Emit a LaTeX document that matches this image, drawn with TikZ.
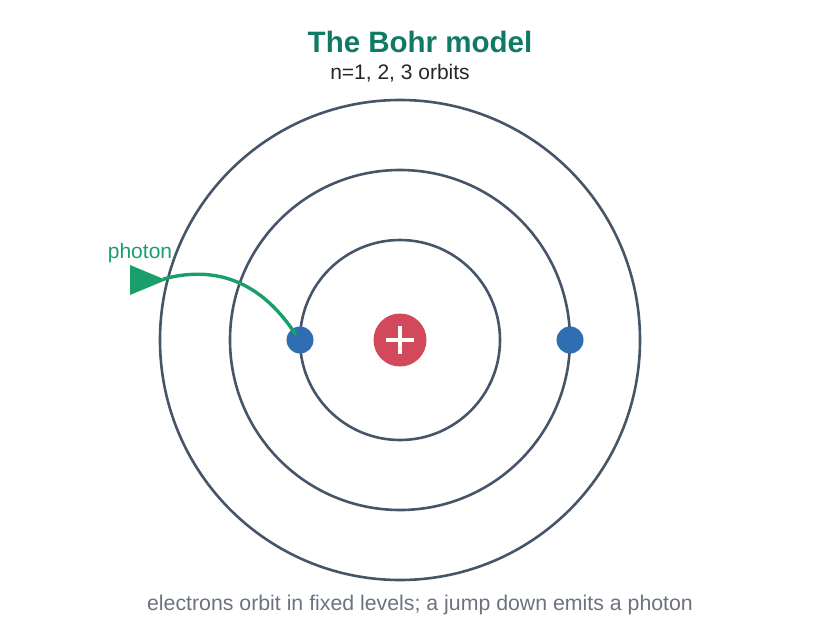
\documentclass[tikz,border=0pt]{standalone}
\usepackage{fontspec}
\setmainfont{Liberation Sans}
\definecolor{orbit}{HTML}{475569}
\definecolor{nuc}{HTML}{D1495B}
\definecolor{elec}{HTML}{2F6EB0}
\definecolor{pho}{HTML}{1A9E6A}
\definecolor{ttl}{HTML}{117A65}
\definecolor{captxt}{HTML}{6B7280}
\begin{document}
\begin{tikzpicture}[x=1pt,y=-1pt,
  orb/.style={draw=orbit,line width=2.6pt},
  el/.style={circle,fill=elec,minimum size=27pt,inner sep=0pt}]
\useasboundingbox (0,0) rectangle (840,640);
\coordinate (c) at (400,340);
\draw[orb] (c) circle (100);
\draw[orb] (c) circle (170);
\draw[orb] (c) circle (240);
\node[circle,fill=nuc,minimum size=53pt,inner sep=0pt] (n) at (c) {};
\draw[white,line width=4.5pt] (386,340) -- (414,340) (400,326) -- (400,354);
\node[el] (e1) at (300,340) {};
\node[el] (e2) at (570,340) {};
\coordinate (tip) at (163,279);
\draw[pho,line width=3.4pt] (296,335) .. controls (255,272) and (205,268) .. (tip);
\fill[pho] (130,265) -- (166,280) -- (130,295) -- cycle;
\node[pho,font=\fontsize{21}{25}\selectfont] (ph) at (140,253) {photon};
\node[ttl,font=\bfseries\fontsize{29.5}{34}\selectfont] (t) at (420,42) {The Bohr model};
\node[black!85,font=\fontsize{21}{25}\selectfont] (s) at (400,73) {n=1, 2, 3 orbits};
\node[captxt,font=\fontsize{21.3}{25}\selectfont] (cp) at (420,605) {electrons orbit in fixed levels; a jump down emits a photon};
\end{tikzpicture}
\end{document}
